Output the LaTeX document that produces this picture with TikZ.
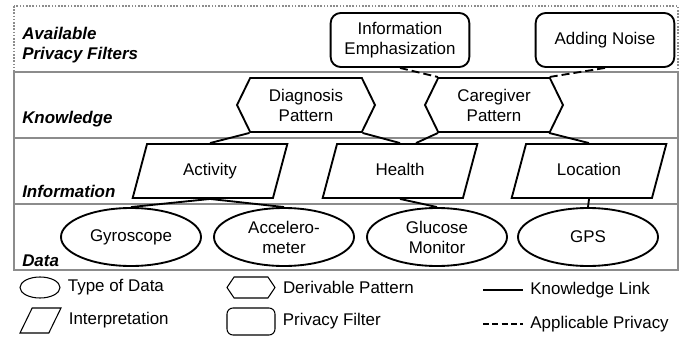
\documentclass[tikz,border=0pt]{standalone}
\usepackage{fontspec}
\setmainfont{Liberation Sans}
\usetikzlibrary{shapes.geometric,shapes.symbols,positioning,calc}
\definecolor{bandgray}{RGB}{140,140,140}

\begin{document}
\begin{tikzpicture}[
        x=0.75pt, y=-0.75pt,
        node distance=2pt,
        every node/.style={font=\fontsize{12.7}{15}\selectfont},
        band/.style={draw=bandgray, line width=1.5pt},
        layer/.style={font=\fontsize{12.7}{15}\selectfont\bfseries\itshape, inner sep=0pt, align=left},
        databox/.style={ellipse, draw, line width=1.4pt, minimum width=105pt, minimum height=43.5pt, inner sep=1pt, align=center},
        infobox/.style={trapezium, trapezium left angle=60, trapezium right angle=120, trapezium stretches body, draw, line width=1.4pt, minimum width=116pt, minimum height=40.5pt, text height=9.3pt, text depth=2.7pt, align=center},
        derivedbox/.style={signal, signal to=west and east, signal pointer angle=128, draw, line width=1.4pt, minimum width=103.5pt, minimum height=40.5pt, align=center},
        filterbox/.style={rectangle, rounded corners=7.5pt, draw, line width=1.4pt, minimum width=104pt, minimum height=40.5pt, align=center},
        knowlink/.style={line width=1.4pt},
        privlink/.style={line width=1.4pt, dash pattern=on 6pt off 3pt},
        legshape/.style={line width=0.8pt, inner sep=0pt}
    ]
    \useasboundingbox (0,0) rectangle (682,339);

    % layers
    \draw[bandgray, line width=1.1pt, dash pattern=on 1.2pt off 1.2pt] (14,6) rectangle (678,72);
    \draw[band] (14,72) rectangle (678,138);
    \draw[band] (14,138) rectangle (678,204);
    \draw[band] (14,204) rectangle (678,270);

    \node[layer, anchor=north west] (lfilter) at (22,27) {Available\\Privacy Filters};
    \node[layer, anchor=base west] (lknow) at (22,123) {Knowledge};
    \node[layer, anchor=base west] (linfo) at (22,197) {Information};
    \node[layer, anchor=base west] (ldata) at (22,266) {Data};

    % privacy filters
    \node[filterbox] (emph) at (400,40) {Information\\Emphasization};
    \node[filterbox] (noise) at (605,40) {Adding Noise};

    % knowledge
    \node[derivedbox] (diag) at (306,105) {Diagnosis\\Pattern};
    \node[derivedbox] (care) at (494,105) {Caregiver\\Pattern};

    % information
    \node[infobox] (act) at (210,171) {Activity};
    \node[infobox] (health) at (400,171) {Health};
    \node[infobox] (loc) at (589,171) {Location};

    % data
    \node[databox] (gyro) at (131,237) {Gyroscope};
    \node[databox] (accel) at (284,237) {Accelero-\\meter};
    \node[databox] (gluc) at (437,237) {Glucose\\Monitor};
    \node[databox] (gps) at (588,237) {GPS};

    \draw[knowlink] ($(diag.south)+(-56.5,0)$) -- (act.north);
    \draw[knowlink] ($(diag.south)+(56.5,0)$) -- (health.north);
    \draw[knowlink] ($(care.south)+(-56,0)$) -- ([xshift=12pt]health.north);
    \draw[knowlink] ($(care.south)+(55,0)$) -- (loc.north);
    \draw[knowlink] (act.south) -- (gyro.north);
    \draw[knowlink] (act.south) -- (accel.north);
    \draw[knowlink] (health.south) -- (gluc.north);
    \draw[knowlink] (loc.south) -- (gps.north);
    \draw[privlink] (emph.south) -- ($(care.north)+(-56,0)$);
    \draw[privlink] (noise.south) -- ($(care.north)+(55,0)$);

    % legend
    \node[databox, legshape, minimum width=30pt, minimum height=15.75pt] (legdata) at (40,287.5) {};
    \node[right=2pt of legdata] {Type of Data};
    \node[infobox, legshape, trapezium left angle=64, trapezium right angle=116, minimum width=30.75pt, minimum height=18.75pt, text height=18.75pt, text depth=0pt] (leginfo) at (40.5,320.5) {};
    \node[right=6.5pt of leginfo] {Interpretation};
    \node[derivedbox, legshape, signal pointer angle=112, minimum width=36pt, minimum height=15.75pt] (legderived) at (251,287.5) {};
    \node[right=2pt of legderived] {Derivable Pattern};
    \node[filterbox, legshape, rounded corners=4.5pt, minimum width=36pt, minimum height=20.25pt] (legfilter) at (251,321.5) {};
    \node[right=2pt of legfilter] {Privacy Filter};
    \coordinate (klA) at (483,290);
    \coordinate (klB) at (523,290);
    \draw[knowlink, line width=0.8pt] (klA) -- (klB);
    \node[right=2pt of klB] {Knowledge Link};
    \coordinate (apA) at (483,324);
    \coordinate (apB) at (523,324);
    \draw[line width=0.8pt, dash pattern=on 4.5pt off 2.5pt] (apA) -- (apB);
    \node[right=2pt of apB] {Applicable Privacy};
\end{tikzpicture}
\end{document}
